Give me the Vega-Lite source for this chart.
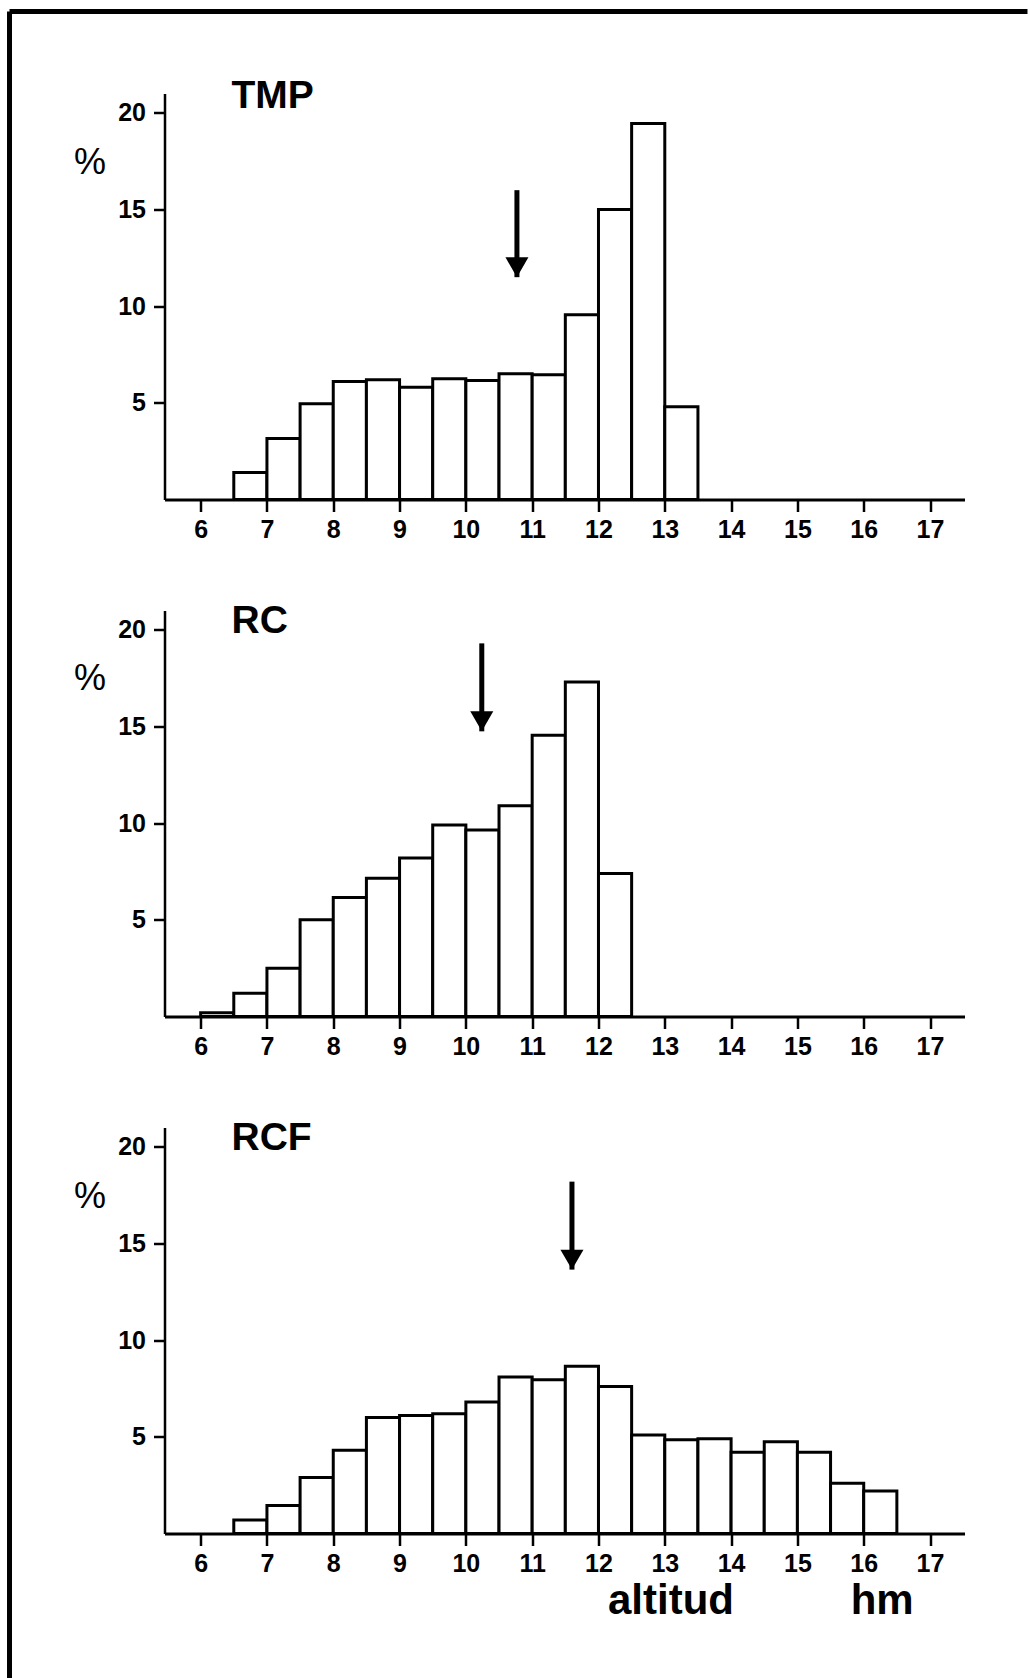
{
  "$schema": "https://vega.github.io/schema/vega-lite/v6.json",
  "padding": {"left": 6.5, "top": 8.5, "right": 0, "bottom": 0},
  "spacing": 111,
  "bounds": "flush",
  "background": "white",
  "datasets": {
    "bars": [
      {"panel": "TMP", "start": 6.5, "end": 7.0, "pct": 1.4},
      {"panel": "TMP", "start": 7.0, "end": 7.5, "pct": 3.15},
      {"panel": "TMP", "start": 7.5, "end": 8.0, "pct": 4.95},
      {"panel": "TMP", "start": 8.0, "end": 8.5, "pct": 6.1},
      {"panel": "TMP", "start": 8.5, "end": 9.0, "pct": 6.2},
      {"panel": "TMP", "start": 9.0, "end": 9.5, "pct": 5.8},
      {"panel": "TMP", "start": 9.5, "end": 10.0, "pct": 6.25},
      {"panel": "TMP", "start": 10.0, "end": 10.5, "pct": 6.15},
      {"panel": "TMP", "start": 10.5, "end": 11.0, "pct": 6.5},
      {"panel": "TMP", "start": 11.0, "end": 11.5, "pct": 6.45},
      {"panel": "TMP", "start": 11.5, "end": 12.0, "pct": 9.55},
      {"panel": "TMP", "start": 12.0, "end": 12.5, "pct": 15.0},
      {"panel": "TMP", "start": 12.5, "end": 13.0, "pct": 19.45},
      {"panel": "TMP", "start": 13.0, "end": 13.5, "pct": 4.8},
      {"panel": "RC", "start": 6.0, "end": 6.5, "pct": 0.2},
      {"panel": "RC", "start": 6.5, "end": 7.0, "pct": 1.2},
      {"panel": "RC", "start": 7.0, "end": 7.5, "pct": 2.5},
      {"panel": "RC", "start": 7.5, "end": 8.0, "pct": 5.0},
      {"panel": "RC", "start": 8.0, "end": 8.5, "pct": 6.15},
      {"panel": "RC", "start": 8.5, "end": 9.0, "pct": 7.15},
      {"panel": "RC", "start": 9.0, "end": 9.5, "pct": 8.2},
      {"panel": "RC", "start": 9.5, "end": 10.0, "pct": 9.9},
      {"panel": "RC", "start": 10.0, "end": 10.5, "pct": 9.65},
      {"panel": "RC", "start": 10.5, "end": 11.0, "pct": 10.9},
      {"panel": "RC", "start": 11.0, "end": 11.5, "pct": 14.55},
      {"panel": "RC", "start": 11.5, "end": 12.0, "pct": 17.3},
      {"panel": "RC", "start": 12.0, "end": 12.5, "pct": 7.4},
      {"panel": "RCF", "start": 6.5, "end": 7.0, "pct": 0.7},
      {"panel": "RCF", "start": 7.0, "end": 7.5, "pct": 1.45},
      {"panel": "RCF", "start": 7.5, "end": 8.0, "pct": 2.9},
      {"panel": "RCF", "start": 8.0, "end": 8.5, "pct": 4.3},
      {"panel": "RCF", "start": 8.5, "end": 9.0, "pct": 6.0},
      {"panel": "RCF", "start": 9.0, "end": 9.5, "pct": 6.1},
      {"panel": "RCF", "start": 9.5, "end": 10.0, "pct": 6.2},
      {"panel": "RCF", "start": 10.0, "end": 10.5, "pct": 6.8},
      {"panel": "RCF", "start": 10.5, "end": 11.0, "pct": 8.1},
      {"panel": "RCF", "start": 11.0, "end": 11.5, "pct": 7.95},
      {"panel": "RCF", "start": 11.5, "end": 12.0, "pct": 8.65},
      {"panel": "RCF", "start": 12.0, "end": 12.5, "pct": 7.6},
      {"panel": "RCF", "start": 12.5, "end": 13.0, "pct": 5.1},
      {"panel": "RCF", "start": 13.0, "end": 13.5, "pct": 4.85},
      {"panel": "RCF", "start": 13.5, "end": 14.0, "pct": 4.9},
      {"panel": "RCF", "start": 14.0, "end": 14.5, "pct": 4.2},
      {"panel": "RCF", "start": 14.5, "end": 15.0, "pct": 4.75},
      {"panel": "RCF", "start": 15.0, "end": 15.5, "pct": 4.2},
      {"panel": "RCF", "start": 15.5, "end": 16.0, "pct": 2.6},
      {"panel": "RCF", "start": 16.0, "end": 16.5, "pct": 2.2}
    ],
    "arrows": [
      {"panel": "TMP", "pos": 10.77, "top": 16.0, "tip": 11.5},
      {"panel": "RC", "pos": 10.24, "top": 19.3, "tip": 14.75},
      {"panel": "RCF", "pos": 11.6, "top": 18.2, "tip": 13.65}
    ]
  },
  "vconcat": [
    {
      "width": 800,
      "height": 406,
      "title": {"text": "TMP", "anchor": "start", "frame": "group", "dx": 67, "offset": -137.5, "baseline": "alphabetic", "fontSize": 39, "fontWeight": "bold", "color": "black"},
      "layer": [
        {
          "data": {"name": "bars"},
          "transform": [{"filter": "datum.panel === 'TMP'"}],
          "mark": {"type": "bar", "fill": "white", "stroke": "black", "strokeWidth": 3},
          "encoding": {
            "x": {"field": "start", "type": "quantitative", "scale": {"domain": [5.455, 17.52], "nice": false, "zero": false},
              "axis": {"values": [6, 7, 8, 9, 10, 11, 12, 13, 14, 15, 16, 17], "format": "d", "tickSize": 12, "tickWidth": 2.5, "domainWidth": 3, "labelFontSize": 25, "labelFontWeight": "bold", "labelPadding": 6, "labelFlush": false, "labelOverlap": false, "title": null}},
            "x2": {"field": "end"},
            "y": {"field": "pct", "type": "quantitative", "scale": {"domain": [0, 21], "nice": false},
              "axis": {"values": [5, 10, 15, 20], "tickSize": 11, "tickWidth": 2.5, "domainWidth": 2.5, "labelFontSize": 25, "labelFontWeight": "bold", "labelPadding": 8, "title": "%", "titleAngle": 0, "titleX": -75, "titleY": 69, "titleAlign": "center", "titleBaseline": "middle", "titleFontSize": 36, "titleFontWeight": "normal"}},
            "y2": {"datum": 0}
          }
        },
        {
          "data": {"name": "arrows"},
          "transform": [{"filter": "datum.panel === 'TMP'"}],
          "mark": {"type": "rule", "color": "black", "strokeWidth": 5},
          "encoding": {"x": {"field": "pos", "type": "quantitative"}, "y": {"field": "top", "type": "quantitative"}, "y2": {"field": "tip"}}
        },
        {
          "data": {"name": "arrows"},
          "transform": [{"filter": "datum.panel === 'TMP'"}],
          "mark": {"type": "point", "shape": "triangle-down", "filled": true, "color": "black", "opacity": 1, "size": 530, "yOffset": -10},
          "encoding": {"x": {"field": "pos", "type": "quantitative"}, "y": {"field": "tip", "type": "quantitative"}}
        },
        {
          "data": {"values": [{}]},
          "mark": {"type": "rule", "color": "black", "strokeWidth": 5},
          "encoding": {"x": {"datum": 3.1175}, "y": {"datum": 25.24}, "y2": {"datum": -63.0}}
        },
        {
          "data": {"values": [{}]},
          "mark": {"type": "rule", "color": "black", "strokeWidth": 5},
          "encoding": {"x": {"datum": 3.1175}, "x2": {"datum": 18.47}, "y": {"datum": 25.24}}
        }
      ]
    },
    {
      "width": 800,
      "height": 406,
      "title": {"text": "RC", "anchor": "start", "frame": "group", "dx": 67, "offset": -61, "baseline": "alphabetic", "fontSize": 39, "fontWeight": "bold", "color": "black"},
      "layer": [
        {
          "data": {"name": "bars"},
          "transform": [{"filter": "datum.panel === 'RC'"}],
          "mark": {"type": "bar", "fill": "white", "stroke": "black", "strokeWidth": 3},
          "encoding": {
            "x": {"field": "start", "type": "quantitative", "scale": {"domain": [5.455, 17.52], "nice": false, "zero": false},
              "axis": {"values": [6, 7, 8, 9, 10, 11, 12, 13, 14, 15, 16, 17], "format": "d", "tickSize": 12, "tickWidth": 2.5, "domainWidth": 3, "labelFontSize": 25, "labelFontWeight": "bold", "labelPadding": 6, "labelFlush": false, "labelOverlap": false, "title": null}},
            "x2": {"field": "end"},
            "y": {"field": "pct", "type": "quantitative", "scale": {"domain": [0, 21], "nice": false},
              "axis": {"values": [5, 10, 15, 20], "tickSize": 11, "tickWidth": 2.5, "domainWidth": 2.5, "labelFontSize": 25, "labelFontWeight": "bold", "labelPadding": 8, "title": "%", "titleAngle": 0, "titleX": -75, "titleY": 68, "titleAlign": "center", "titleBaseline": "middle", "titleFontSize": 36, "titleFontWeight": "normal"}},
            "y2": {"datum": 0}
          }
        },
        {
          "data": {"name": "arrows"},
          "transform": [{"filter": "datum.panel === 'RC'"}],
          "mark": {"type": "rule", "color": "black", "strokeWidth": 5},
          "encoding": {"x": {"field": "pos", "type": "quantitative"}, "y": {"field": "top", "type": "quantitative"}, "y2": {"field": "tip"}}
        },
        {
          "data": {"name": "arrows"},
          "transform": [{"filter": "datum.panel === 'RC'"}],
          "mark": {"type": "point", "shape": "triangle-down", "filled": true, "color": "black", "opacity": 1, "size": 530, "yOffset": -10},
          "encoding": {"x": {"field": "pos", "type": "quantitative"}, "y": {"field": "tip", "type": "quantitative"}}
        }
      ]
    },
    {
      "width": 800,
      "height": 406,
      "title": {"text": "RCF", "anchor": "start", "frame": "group", "dx": 67, "offset": -61, "baseline": "alphabetic", "fontSize": 39, "fontWeight": "bold", "color": "black"},
      "layer": [
        {
          "data": {"name": "bars"},
          "transform": [{"filter": "datum.panel === 'RCF'"}],
          "mark": {"type": "bar", "fill": "white", "stroke": "black", "strokeWidth": 3},
          "encoding": {
            "x": {"field": "start", "type": "quantitative", "scale": {"domain": [5.455, 17.52], "nice": false, "zero": false},
              "axis": {"values": [6, 7, 8, 9, 10, 11, 12, 13, 14, 15, 16, 17], "format": "d", "tickSize": 12, "tickWidth": 2.5, "domainWidth": 3, "labelFontSize": 25, "labelFontWeight": "bold", "labelPadding": 6, "labelFlush": false, "labelOverlap": false,
                "title": "altitud\u00a0\u00a0\u00a0\u00a0\u00a0\u00a0\u00a0\u00a0\u00a0\u00a0hm", "titleX": 443, "titleY": 80, "titleAlign": "left", "titleBaseline": "alphabetic", "titleFontSize": 42, "titleFontWeight": "bold"}},
            "x2": {"field": "end"},
            "y": {"field": "pct", "type": "quantitative", "scale": {"domain": [0, 21], "nice": false},
              "axis": {"values": [5, 10, 15, 20], "tickSize": 11, "tickWidth": 2.5, "domainWidth": 2.5, "labelFontSize": 25, "labelFontWeight": "bold", "labelPadding": 8, "title": "%", "titleAngle": 0, "titleX": -75, "titleY": 69, "titleAlign": "center", "titleBaseline": "middle", "titleFontSize": 36, "titleFontWeight": "normal"}},
            "y2": {"datum": 0}
          }
        },
        {
          "data": {"name": "arrows"},
          "transform": [{"filter": "datum.panel === 'RCF'"}],
          "mark": {"type": "rule", "color": "black", "strokeWidth": 5},
          "encoding": {"x": {"field": "pos", "type": "quantitative"}, "y": {"field": "top", "type": "quantitative"}, "y2": {"field": "tip"}}
        },
        {
          "data": {"name": "arrows"},
          "transform": [{"filter": "datum.panel === 'RCF'"}],
          "mark": {"type": "point", "shape": "triangle-down", "filled": true, "color": "black", "opacity": 1, "size": 530, "yOffset": -10},
          "encoding": {"x": {"field": "pos", "type": "quantitative"}, "y": {"field": "tip", "type": "quantitative"}}
        }
      ]
    }
  ],
  "config": {
    "view": {"stroke": null},
    "font": "Liberation Sans",
    "axis": {"domainColor": "black", "tickColor": "black", "labelColor": "black", "titleColor": "black", "grid": false}
  }
}
